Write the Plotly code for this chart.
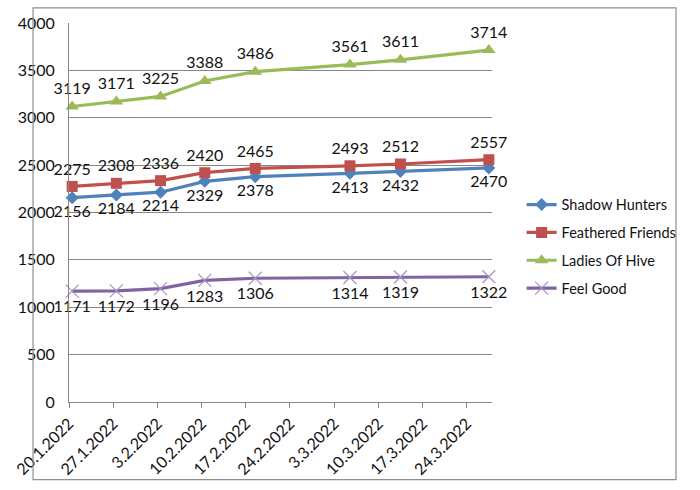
import plotly.graph_objects as go
import pandas as pd

dates = ["2022-01-20", "2022-01-27", "2022-02-03", "2022-02-10", "2022-02-18",
         "2022-03-05", "2022-03-13", "2022-03-27"]
shadow_hunters = [2156, 2184, 2214, 2329, 2378, 2413, 2432, 2470]
feathered_friends = [2275, 2308, 2336, 2420, 2465, 2493, 2512, 2557]
ladies_of_hive = [3119, 3171, 3225, 3388, 3486, 3561, 3611, 3714]
feel_good = [1171, 1172, 1196, 1283, 1306, 1314, 1319, 1322]

# points sit in the middle of each day slot (Excel date axis)
x = pd.to_datetime(dates) + pd.Timedelta(hours=12)

FONT = "Lato"
FS = 16
series = [
    ("Shadow Hunters", shadow_hunters, "#4F81BD", "diamond", 10, "bottom center", None),
    ("Feathered Friends", feathered_friends, "#C0504D", "square", 11, "top center", None),
    ("Ladies Of Hive", ladies_of_hive, "#9BBB59", "triangle-up", 12, "top center", None),
    ("Feel Good", feel_good, "#8064A2", "x-thin", 13, "bottom center", "#A594C5"),
]

fig = go.Figure()
for name, vals, color, sym, size, tpos, mline in series:
    marker = dict(symbol=sym, size=size, color=color)
    if mline:
        marker["line"] = dict(color=mline, width=1.2)
    fig.add_trace(go.Scatter(
        x=x, y=vals, name=name, legendgroup=name, mode="lines+markers+text",
        line=dict(color=color, width=3.2),
        marker=marker,
        text=[str(v) for v in vals], textposition=tpos,
        textfont=dict(family=FONT, size=FS, color="#111111"),
        cliponaxis=False,
    ))

fig.update_layout(
    width=700, height=490,
    margin=dict(l=64, r=208, t=23, b=83),
    paper_bgcolor="white", plot_bgcolor="white",
    font=dict(family=FONT, size=FS, color="#111111"),
    showlegend=True,
    legend=dict(x=1.07, y=0.41, xanchor="left", yanchor="middle",
                font=dict(family=FONT, size=14.5, color="#111111"),
                tracegroupgap=6, itemwidth=30, bgcolor="rgba(0,0,0,0)"),
    xaxis=dict(
        type="date", range=["2022-01-20", "2022-03-28"],
        tick0="2022-01-20", dtick=7 * 86400000, tickformat="%-d.%-m.%Y",
        tickangle=-45, showgrid=False, showline=True, linecolor="#868686",
        ticks="outside", ticklen=5, tickcolor="#868686",
        tickfont=dict(family=FONT, size=FS, color="#111111"),
        zeroline=False,
    ),
    yaxis=dict(
        range=[0, 4000], dtick=500, showgrid=True, gridcolor="#868686",
        gridwidth=1, showline=True, linecolor="#868686", zeroline=False,
        ticks="", tickfont=dict(family=FONT, size=FS, color="#111111"),
        ticklabelstandoff=10,
    ),
    shapes=[dict(type="rect", xref="paper", yref="paper",
                 x0=-0.085, x1=1.435, y0=-0.205, y1=1.04,
                 line=dict(color="#8E8E8E", width=1.2))],
)

fig.write_html("out.html")
